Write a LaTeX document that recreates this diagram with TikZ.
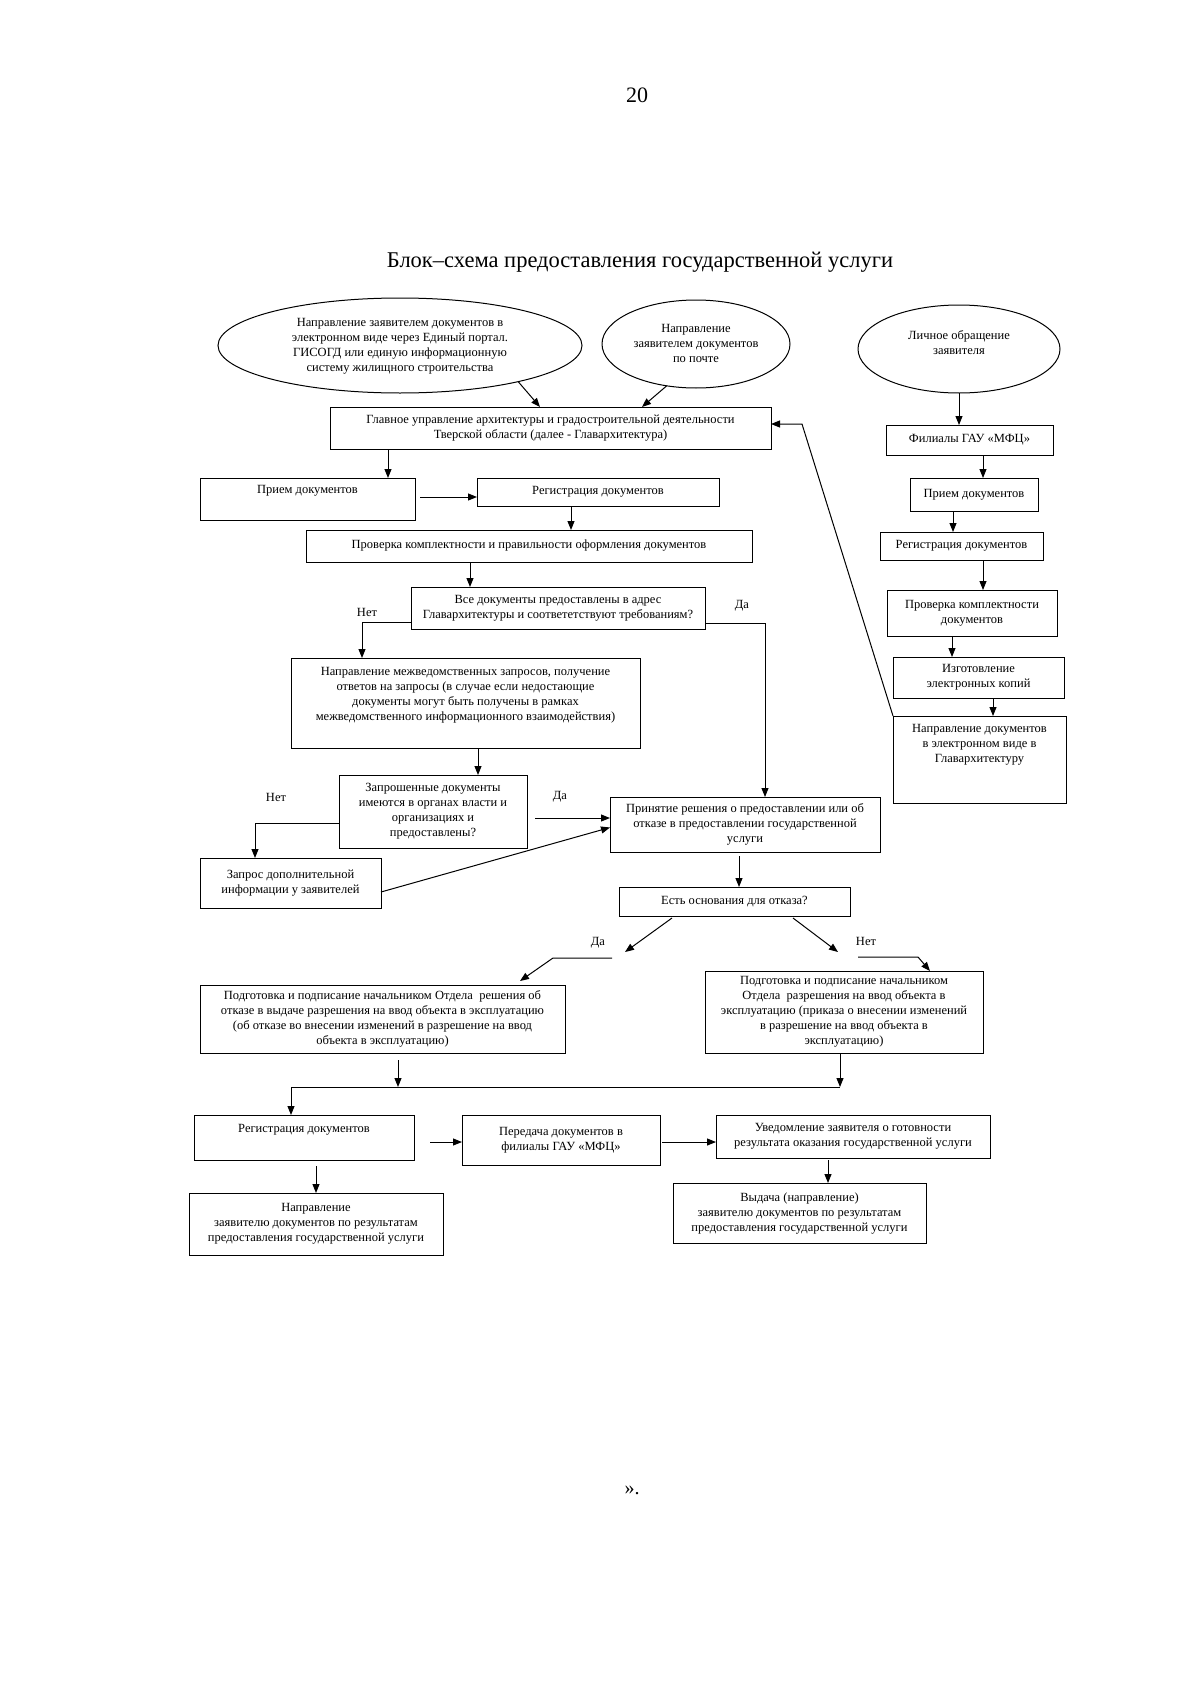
\documentclass[tikz,border=0pt]{standalone}
\usepackage{fontspec}
\setmainfont{Liberation Serif}
\usetikzlibrary{arrows.meta,shapes.geometric,calc}
\newcommand\bxfont{\fontsize{12.5}{15}\selectfont}
\tikzset{
  box/.style={draw, line width=1pt, inner sep=0pt, outer sep=0pt, align=center, font=\bxfont},
  txt/.style={inner sep=0pt, align=center, font=\bxfont},
  ell/.style={ellipse, draw, line width=1pt, inner sep=0pt, outer sep=0pt},
  arr/.style={-{Triangle[length=9pt,width=7pt]}, line width=1pt},
  ln/.style={line width=1pt},
}
\begin{document}
\begin{tikzpicture}[x=1pt,y=-1pt]
\useasboundingbox[fill=white] (0,0) rectangle (1200,1699);

% page number, title, closing mark
\node[inner sep=0pt, font=\fontsize{22}{26}\selectfont] (pg) at (637,95) {20};
\node[inner sep=0pt, font=\fontsize{22.5}{26}\selectfont] (title) at (640,262) {Блок–схема предоставления государственной услуги};
\node[inner sep=0pt, font=\fontsize{20}{24}\selectfont] (endq) at (632,1490) {».};

% ellipses
\node[ell, minimum width=364pt, minimum height=95pt] (e1) at (400,345.5) {};
\node[txt] (e1t) at (400,346.5) {Направление заявителем документов в\\электронном виде через Единый портал.\\ГИСОГД или единую информационную\\систему жилищного строительства};
\node[ell, minimum width=188pt, minimum height=88pt] (e2) at (696,344) {};
\node[txt] (e2t) at (696,343.5) {Направление\\заявителем документов\\по почте};
\node[ell, minimum width=202pt, minimum height=88pt] (e3) at (959,349) {};
\node[txt] (e3t) at (959,342.5) {Личное обращение\\заявителя};

% main column
\node[box, minimum width=441pt, minimum height=42pt] (g) at (550.5,428) {Главное управление архитектуры и градостроительной деятельности\\Тверской области (далее - Главархитектура)};
\node[box, minimum width=215pt, minimum height=42pt] (p1) at (307.5,499) {};
\node[txt] (p1t) at (307.5,491) {Прием документов};
\node[box, minimum width=242pt, minimum height=28pt] (r1) at (598,492) {Регистрация документов};
\node[box, minimum width=446pt, minimum height=32pt] (k1) at (529,546) {Проверка комплектности и правильности оформления документов};
\node[box, minimum width=294pt, minimum height=42pt] (d1) at (558,608) {Все документы предоставлены в адрес\\Главархитектуры и соответетствуют требованиям?};
\node[box, minimum width=349pt, minimum height=90pt] (m1) at (465.5,703) {};
\node[txt] (m1t) at (465.5,695.5) {Направление межведомственных запросов, получение\\ответов на запросы (в случае если недостающие\\документы могут быть получены в рамках\\межведомственного информационного взаимодействия)};
\node[box, minimum width=188pt, minimum height=73pt] (q1) at (433,811.5) {Запрошенные документы\\имеются в органах власти и\\организациях и\\предоставлены?};
\node[box, minimum width=181pt, minimum height=50pt] (z1) at (290.5,883) {Запрос дополнительной\\информации у заявителей};
\node[box, minimum width=270pt, minimum height=55pt] (a1) at (745,824.5) {Принятие решения о предоставлении или об\\отказе в предоставлении государственной\\услуги};
\node[box, minimum width=231pt, minimum height=29pt] (o1) at (734.5,901.5) {Есть основания для отказа?};
\node[box, minimum width=365pt, minimum height=68pt] (l1) at (382.5,1019) {Подготовка и подписание начальником Отдела \ решения об\\отказе в выдаче разрешения на ввод объекта в эксплуатацию\\(об отказе во внесении изменений в разрешение на ввод\\объекта в эксплуатацию)};
\node[box, minimum width=278pt, minimum height=82pt] (r2) at (844,1012) {Подготовка и подписание начальником\\Отдела \ разрешения на ввод объекта в\\эксплуатацию (приказа о внесении изменений\\в разрешение на ввод объекта в\\эксплуатацию)};
\node[box, minimum width=220pt, minimum height=45pt] (b1) at (304,1137.5) {};
\node[txt] (b1t) at (304,1130) {Регистрация документов};
\node[box, minimum width=198pt, minimum height=50pt] (b2) at (561,1140) {Передача документов в\\филиалы ГАУ «МФЦ»};
\node[box, minimum width=274pt, minimum height=43pt] (b3) at (853,1136.5) {Уведомление заявителя о готовности\\результата оказания государственной услуги};
\node[box, minimum width=253pt, minimum height=60pt] (b4) at (799.5,1213) {Выдача (направление)\\заявителю документов по результатам\\предоставления государственной услуги};
\node[box, minimum width=254pt, minimum height=62pt] (b5) at (316,1224) {Направление\\заявителю документов по результатам\\предоставления государственной услуги};

% right column
\node[box, minimum width=167pt, minimum height=30pt] (mfc) at (969.5,440) {Филиалы ГАУ «МФЦ»};
\node[box, minimum width=128pt, minimum height=33pt] (rp) at (974,494.5) {Прием документов};
\node[box, minimum width=163pt, minimum height=28pt] (rr) at (961.5,546) {Регистрация документов};
\node[box, minimum width=170pt, minimum height=46pt] (rk) at (972,613) {Проверка комплектности\\документов};
\node[box, minimum width=171pt, minimum height=41pt] (ri) at (978.5,677.5) {Изготовление\\электронных копий};
\node[box, minimum width=173pt, minimum height=87pt] (rn) at (979.5,759.5) {};
\node[txt] (rnt) at (979.5,745) {Направление документов\\в электронном виде в\\Главархитектуру};

% labels
\node[txt] (lno1) at (367,612) {Нет};
\node[txt] (lda1) at (742,606) {Да};
\node[txt] (lno2) at (276,797) {Нет};
\node[txt] (lda2) at (560,797) {Да};
\node[txt] (lda3) at (598,943) {Да};
\node[txt] (lno3) at (866,941) {Нет};

% free points
\coordinate (datip) at (625,952);
\coordinate (das1) at (612,958);
\coordinate (das2) at (553,958);
\coordinate (notip) at (838,952);
\coordinate (nos1) at (858,957);
\coordinate (nos2) at (918,957);
\coordinate (jl) at (291,1087);
\coordinate (jr) at (840,1087);
\coordinate (jm) at (398,1087);

% connectors
\draw[arr] (e1.-17) -- ([xshift=210pt]g.north west);
\draw[arr] (e2.-125) -- ([xshift=312pt]g.north west);
\draw[arr] (e3.south) -- (e3.south |- mfc.north);
\draw[arr] ([xshift=13.5pt]mfc.south) -- ([xshift=13.5pt]mfc.south |- rp.north);
\draw[arr] ([xshift=-21pt]rp.south) -- ([xshift=-21pt]rp.south |- rr.north);
\draw[arr] ([xshift=21.5pt]rr.south) -- ([xshift=21.5pt]rr.south |- rk.north);
\draw[arr] ([xshift=-20pt]rk.south) -- ([xshift=-20pt]rk.south |- ri.north);
\draw[arr] ([xshift=14.5pt]ri.south) -- ([xshift=14.5pt]ri.south |- rn.north);
\draw[arr] (rn.north west) -- ($(g.east)+(31,-4)$) -- ([yshift=4pt]g.east);

\draw[arr] ([xshift=58pt]g.south west) -- ([xshift=58pt]g.south west |- p1.north);
\draw[arr] ([xshift=5pt,yshift=2pt]p1.east) -- ([yshift=2pt]p1.east -| r1.west);
\draw[arr] ([xshift=-27pt]r1.south) -- ([xshift=-27pt]r1.south |- k1.north);
\draw[arr] ([xshift=-59pt]k1.south) -- ([xshift=-59pt]k1.south |- d1.north);
\draw[arr] ([yshift=-14pt]d1.west) -| ([xshift=-103.5pt]m1.north);
\draw[arr] ([yshift=-15pt]d1.east) -| ([xshift=20pt]a1.north);
\draw[arr] ([xshift=12.5pt]m1.south) -- ([xshift=12.5pt]m1.south |- q1.north);
\draw[arr] ([yshift=-11.5pt]q1.west) -| ([xshift=-35.5pt]z1.north);
\draw[arr] ([xshift=8pt,yshift=-6.5pt]q1.east) -- ([yshift=-6.5pt]q1.east -| a1.west);
\draw[arr] ([yshift=-9pt]z1.east) -- ([yshift=-3pt]a1.west);
\draw[arr] ([xshift=-6pt,yshift=-4pt]a1.south) -- ([xshift=-6pt]a1.south |- o1.north);

\draw[arr] ([xshift=53pt,yshift=-2pt]o1.south west) -- (datip);
\draw[arr] (das1) -- (das2) -- ([xshift=-45pt,yshift=4pt]l1.north east);
\draw[arr] ([xshift=-57pt,yshift=-2pt]o1.south east) -- (notip);
\draw[arr] (nos1) -- (nos2) -- ([xshift=86pt]r2.north);

\draw[arr] ([xshift=15.5pt,yshift=-7pt]l1.south) -- (jm);
\draw[arr] ([xshift=-4pt]r2.south) -- (jr);
\draw[ln] (jr) -- (jl);
\draw[arr] (jl) -- (jl |- b1.north);

\draw[arr] ([xshift=16pt,yshift=-4.5pt]b1.east) -- ([yshift=-4.5pt]b1.east -| b2.west);
\draw[arr] ([xshift=2pt,yshift=-2pt]b2.east) -- ([yshift=-2pt]b2.east -| b3.west);
\draw[arr] ([xshift=-25pt,yshift=-2pt]b3.south) -- ([xshift=-25pt]b3.south |- b4.north);
\draw[arr] ([xshift=12pt,yshift=-6pt]b1.south) -- ([xshift=12pt]b1.south |- b5.north);
\end{tikzpicture}
\end{document}
